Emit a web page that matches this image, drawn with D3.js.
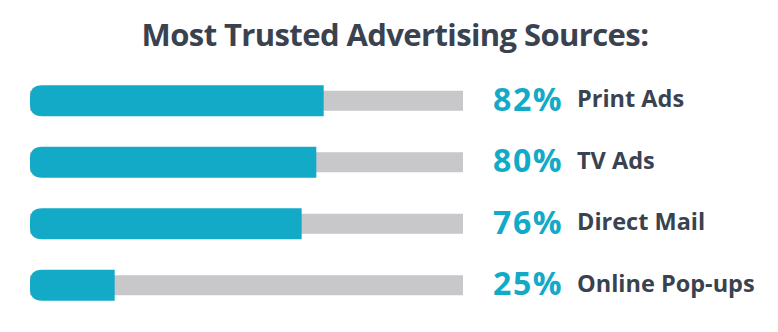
<!DOCTYPE html>
<html>
<head>
<meta charset="utf-8">
<script src="https://cdn.jsdelivr.net/npm/d3@7"></script>
<style>
  html, body { margin: 0; padding: 0; background: #ffffff; }
  svg { display: block; }
</style>
</head>
<body>
<svg id="chart" width="778" height="332"></svg>
<script>
const title = "Most Trusted Advertising Sources:";
const categories = ["Print Ads", "TV Ads", "Direct Mail", "Online Pop-ups"];
const values = [82, 80, 76, 25];
const valueLabels = ["82%", "80%", "76%", "25%"];

const W = 778, H = 332;
const teal = "#12aac7", track = "#c8c8cb", dark = "#3a424f";
const fontFam = "'Open Sans', Lato, sans-serif";

const svg = d3.select("#chart");

const y = d3.scaleBand().domain(categories).range([70, 316]).paddingInner(0).paddingOuter(0);
const x = d3.scaleLinear().domain([0, 120]).range([23, 463]);
const barStart = 30;
const fillH = 31, trackH = 20, r = 12;

svg.append("text")
  .attr("x", 395).attr("y", 46)
  .attr("text-anchor", "middle")
  .attr("font-family", fontFam).attr("font-weight", 700)
  .attr("font-size", 31).attr("fill", dark)
  .attr("letter-spacing", -0.6)
  .text(title);

const rows = svg.selectAll("g.row").data(categories.map((c, i) => ({c, v: values[i], l: valueLabels[i]})))
  .enter().append("g").attr("class", "row")
  .attr("transform", d => `translate(0,${y(d.c) + y.bandwidth() / 2})`);

rows.append("rect")
  .attr("x", barStart).attr("y", -trackH / 2)
  .attr("width", x(120) - barStart).attr("height", trackH)
  .attr("fill", track);

// teal fill: rounded left end, square right end
rows.append("path")
  .attr("fill", teal)
  .attr("d", d => {
    const x0 = barStart, x1 = x(d.v), h = fillH / 2;
    return `M${x1},${-h} L${x0 + r},${-h} Q${x0},${-h} ${x0},${-h + r} L${x0},${h - r} Q${x0},${h} ${x0 + r},${h} L${x1},${h} Z`;
  });

rows.append("text")
  .attr("x", 563).attr("y", 10)
  .attr("text-anchor", "end")
  .attr("font-family", fontFam).attr("font-weight", 700)
  .attr("font-size", 32).attr("fill", teal)
  .attr("letter-spacing", 1.5)
  .text(d => d.l);

rows.append("text")
  .attr("x", 577).attr("y", 6.5)
  .attr("font-family", fontFam).attr("font-weight", 700)
  .attr("font-size", 23.5).attr("fill", dark)
  .attr("letter-spacing", 0)
  .text(d => d.c);
</script>
</body>
</html>
